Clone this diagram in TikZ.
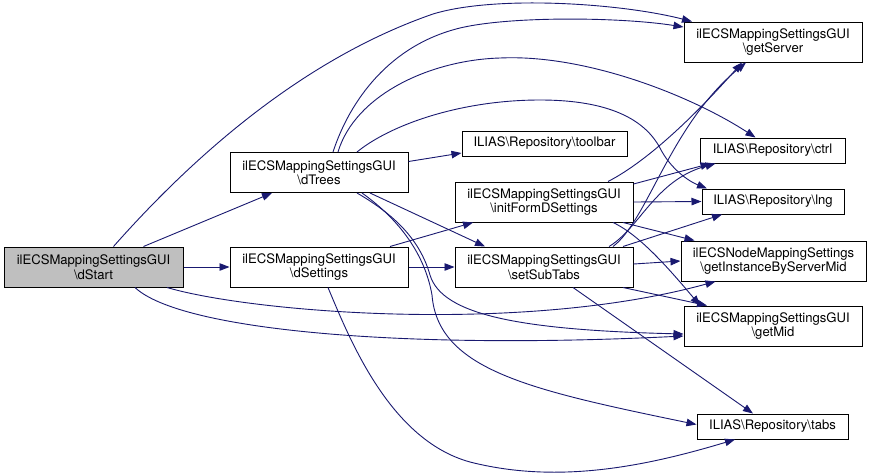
\documentclass[tikz,border=0pt]{standalone}
\usepackage{fontspec}
\setmainfont{TeX Gyre Heros}
\usetikzlibrary{arrows.meta}
\definecolor{edgeblue}{HTML}{191970}
\definecolor{startgray}{HTML}{BFBFBF}
\begin{document}
\begin{tikzpicture}[x=1pt,y=-1pt,
  box/.style={draw=black, line width=1pt, fill=white, inner sep=0pt, align=center,
    font=\fontsize{13.1}{14.5}\selectfont},
  wide/.style={box, minimum width=178pt, minimum height=40pt},
  slim/.style={box, minimum height=25pt},
  call/.style={draw=edgeblue, line width=0.9pt, -{Triangle[length=10pt,width=7.5pt]}}
]
\useasboundingbox (0,0) rectangle (871,475);
\fill[white] (0,0) rectangle (871,475);

\node[wide, fill=startgray, minimum width=179pt] (start) at (93.5,267) {ilECSMappingSettingsGUI\\\textbackslash dStart};
\node[wide] (trees) at (319,172.5) {ilECSMappingSettingsGUI\\\textbackslash dTrees};
\node[wide] (settings) at (319,267) {ilECSMappingSettingsGUI\\\textbackslash dSettings};
\node[slim, minimum width=165pt] (toolbar) at (544.5,143.5) {ILIAS\textbackslash Repository\textbackslash toolbar};
\node[wide] (initform) at (544,202) {ilECSMappingSettingsGUI\\\textbackslash initFormDSettings};
\node[wide] (subtabs) at (544,267) {ilECSMappingSettingsGUI\\\textbackslash setSubTabs};
\node[wide] (server) at (773,42) {ilECSMappingSettingsGUI\\\textbackslash getServer};
\node[slim, minimum width=145pt] (ctrl) at (772.5,150.5) {ILIAS\textbackslash Repository\textbackslash ctrl};
\node[slim, minimum width=142pt] (lng) at (773,201.5) {ILIAS\textbackslash Repository\textbackslash lng};
\node[wide, minimum width=185pt] (nodemap) at (773.5,261) {ilECSNodeMappingSettings\\\textbackslash getInstanceByServerMid};
\node[wide] (mid) at (773,326) {ilECSMappingSettingsGUI\\\textbackslash getMid};
\node[slim, minimum width=151pt] (tabs) at (772.5,426.5) {ILIAS\textbackslash Repository\textbackslash tabs};

% dStart
\draw[call] ([xshift=50pt]start.north) -- ([xshift=-47pt]trees.south);
\draw[call] (start.east) -- (settings.west);
\draw[call] ([xshift=20pt]start.north) .. controls (190,160) and (300,60) .. (433,14)
  .. controls (495,-5) and (620,3) .. ([xshift=-81pt]server.north);
\draw[call] ([xshift=73.5pt]start.south) .. controls (250,312) and (520,335) .. ([xshift=-58pt]nodemap.south);
\draw[call] ([xshift=41.5pt]start.south) .. controls (180,330) and (400,350) .. ([yshift=-10pt]mid.west);

% dTrees
\draw[call] ([yshift=11pt]trees.east) -- ([yshift=-9.5pt]toolbar.west);
\draw[call] ([xshift=14pt]trees.north) .. controls (350,100) and (390,45) .. (460,28)
  .. controls (510,16) and (620,17) .. ([yshift=15pt]server.west);
\draw[call] ([xshift=19pt]trees.north) .. controls (355,95) and (430,60) .. (500,58)
  .. controls (585,54) and (690,95) .. ([xshift=-17pt]ctrl.north);
\draw[call] ([xshift=38pt]trees.north) .. controls (390,125) and (460,100) .. (540,100)
  .. controls (610,100) and (645,120) .. (660,148)
  .. controls (670,168) and (688,181) .. ([xshift=-66pt]lng.north);
\draw[call] ([xshift=51pt]trees.south) -- ([xshift=-59pt]subtabs.north);
\draw[call] ([xshift=38pt]trees.south) .. controls (395,215) and (420,240) .. (430,275)
  .. controls (442,315) and (520,330) .. ([yshift=-8pt]mid.west);
\draw[call] ([xshift=43pt]trees.south) .. controls (400,220) and (425,255) .. (432,295)
  .. controls (438,370) and (530,390) .. ([yshift=2pt]tabs.west);

% dSettings
\draw[call] ([xshift=71pt]settings.north) -- ([xshift=-71pt]initform.south);
\draw[call] (settings.east) -- (subtabs.west);
\draw[call] ([xshift=9pt]settings.south) .. controls (350,340) and (390,440) .. (470,462)
  .. controls (560,485) and (650,465) .. ([xshift=-37.5pt]tabs.south);

% initFormDSettings
\draw[call] ([xshift=64pt]initform.north) .. controls (650,160) and (700,110) .. ([xshift=-31pt]server.south);
\draw[call] ([yshift=18pt]initform.east) -- ([xshift=-62pt]ctrl.south);
\draw[call] (initform.east) -- (lng.west);
\draw[call] ([xshift=79pt]initform.south) -- ([xshift=-79pt]nodemap.north);
\draw[call] ([xshift=69pt]initform.south) .. controls (640,235) and (670,270) .. ([xshift=-73pt]mid.north);

% setSubTabs
\draw[call] ([xshift=69pt]subtabs.north) .. controls (648,220) and (670,125) .. ([xshift=-27pt]server.south);
\draw[call] ([xshift=65pt]subtabs.north) .. controls (640,228) and (655,180) .. ([xshift=-57pt]ctrl.south);
\draw[call] ([xshift=79pt]subtabs.north) -- ([xshift=-51pt]lng.south);
\draw[call] ([yshift=3pt]subtabs.east) -- (nodemap.west);
\draw[call] ([xshift=79pt]subtabs.south) -- ([xshift=-66pt]mid.north);
\draw[call] ([xshift=29pt]subtabs.south) -- ([xshift=-19.5pt]tabs.north);
\end{tikzpicture}
\end{document}
